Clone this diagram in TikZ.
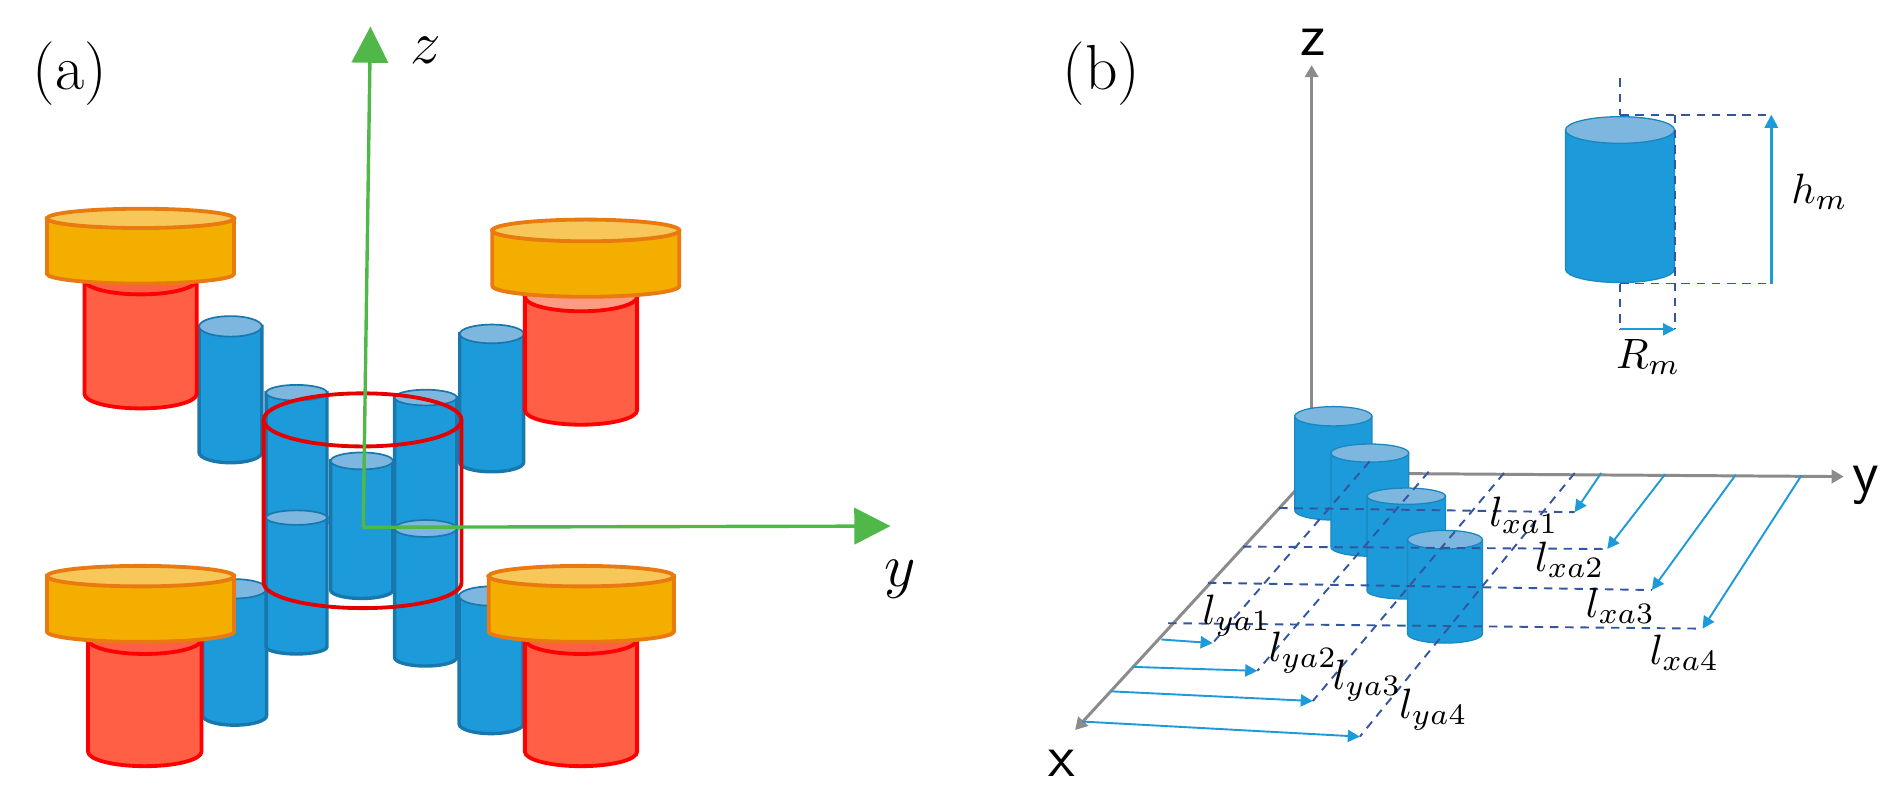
\documentclass[tikz,border=0pt]{standalone}
\usepackage{amsmath}
\usepackage{amssymb}
\usepackage[dvipsnames]{xcolor}
\usetikzlibrary{arrows.meta}

\definecolor{cylblue}{HTML}{1D9AD9}
\definecolor{cyledge}{HTML}{1878AE}
\definecolor{cyltop}{HTML}{7DB7E0}
\definecolor{redbody}{HTML}{FF5F45}
\definecolor{redtop}{HTML}{FF9A85}
\definecolor{orbody}{HTML}{F4AE00}
\definecolor{oredge}{HTML}{E87A10}
\definecolor{ortop}{HTML}{F8C75A}
\definecolor{axgreen}{HTML}{4FB848}
\definecolor{axgray}{HTML}{8C8A8A}
\definecolor{griddark}{HTML}{34559F}

% xl xr ytop ylow ybot body top
\newcommand{\cyl}[7]{
  \pgfmathsetmacro{\cylx}{(#1+#2)/2}
  \pgfmathsetmacro{\cylrx}{(#2-#1)/2}
  \pgfmathsetmacro{\cylry}{(#4-#3)/2}
  \pgfmathsetmacro{\cylcy}{(#3+#4)/2}
  \pgfmathsetmacro{\cylby}{#5-\cylry}
  \draw[#6] (#1,\cylcy) -- (#1,\cylby) arc[start angle=180, end angle=0, x radius=\cylrx, y radius=\cylry] -- (#2,\cylcy) -- cycle;
  \draw[#7] (\cylx,\cylcy) ellipse[x radius=\cylrx, y radius=\cylry];
}

\begin{document}
\begin{tikzpicture}[x=0.01cm, y=-0.01cm]
  % 样式
  \tikzset{bluebody/.style = {fill=cylblue, draw=cyledge, line width=0.8pt}}
  \tikzset{bluecap/.style = {fill=cyltop, draw=cyledge, line width=0.4pt}}
  \tikzset{flatbody/.style = {fill=cylblue, draw=cyledge!50!cylblue, line width=0.3pt}}
  \tikzset{flatcap/.style = {fill=cyltop, draw=cyledge!60!cylblue, line width=0.3pt}}
  \tikzset{redcyl/.style = {fill=redbody, draw=red, line width=0.9pt}}
  \tikzset{redcap/.style = {fill=redbody, draw=red, line width=0.9pt}}
  \tikzset{paleredcap/.style = {fill=redtop, draw=red, line width=0.9pt}}
  \tikzset{orcyl/.style = {fill=orbody, draw=oredge, line width=0.9pt}}
  \tikzset{orcap/.style = {fill=ortop, draw=oredge, line width=0.9pt}}
  \tikzset{redline/.style = {draw=red!90!black, line width=0.9pt}}
  \tikzset{greenaxis/.style = {draw=axgreen, line width=0.8pt, -{Triangle[length=3mm, width=3mm]}}}
  \tikzset{grayaxis/.style = {draw=axgray, line width=0.7pt, -{Triangle[length=1mm, width=1.1mm]}}}
  \tikzset{griddash/.style = {draw=griddark, line width=0.45pt, dash pattern=on 2pt off 1.6pt}}
  \tikzset{bluearrow/.style = {draw=cylblue, line width=0.45pt, -{Triangle[length=1mm, width=1mm]}}}
  \tikzset{panel/.style = {inner sep=0pt, font=\fontsize{15}{17}\selectfont}}
  \tikzset{mathlabel/.style = {inner sep=0pt, font=\fontsize{15}{17}\selectfont}}
  \tikzset{sanslabel/.style = {inner sep=0pt, font=\fontsize{14}{16}\selectfont\sffamily}}
  \tikzset{lenlabel/.style = {inner sep=0pt, font=\fontsize{10}{12}\selectfont}}

  \useasboundingbox (0,0) rectangle (1568,663.8);

  % (a) 外侧蓝柱
  \cyl{165}{217}{262}{279}{383.5}{bluebody}{bluecap}
  \cyl{381}{434}{269}{284.5}{391}{bluebody}{bluecap}
  \cyl{168}{221}{480}{496}{601}{bluebody}{bluecap}
  \cyl{380.5}{433.6}{486}{502}{608}{bluebody}{bluecap}

  % (a) 红柱和橙盘
  \cyl{70}{163}{220}{244}{338.5}{redcyl}{redcap}
  \cyl{435}{528}{234}{258}{352}{redcyl}{paleredcap}
  \cyl{73}{167}{518}{542}{635}{redcyl}{redcap}
  \cyl{435}{528}{518}{542}{635}{redcyl}{redcap}
  \cyl{39}{194}{173}{189}{235}{orcyl}{orcap}
  \cyl{408}{563}{182}{200}{246}{orcyl}{orcap}
  \cyl{39}{194}{469}{486}{532}{orcyl}{orcap}
  \cyl{405}{558.5}{469}{486}{532}{orcyl}{orcap}

  % (a) 内侧蓝柱
  \cyl{220.5}{271}{319}{332}{440}{bluebody}{bluecap}
  \cyl{327}{378.5}{323}{336}{445}{bluebody}{bluecap}
  \cyl{220.5}{271}{423}{435}{542}{bluebody}{bluecap}
  \cyl{327}{378.5}{431}{445}{552}{bluebody}{bluecap}
  \cyl{274}{325.6}{375}{389}{496}{bluebody}{bluecap}

  % (a) 红色线框
  \draw[redline] (218.5,348) -- (218.5,483) arc[start angle=180, end angle=0, x radius=82, y radius=21] -- (382.5,348);
  \draw[redline] (300.5,348) ellipse[x radius=82, y radius=22];

  % (a) 坐标轴
  \coordinate (oa) at (301,437);
  \coordinate (za) at (307,22);
  \coordinate (ya) at (738,436);
  \draw[greenaxis] (oa) -- (za);
  \draw[greenaxis] (oa) -- (ya);
  \node[mathlabel] (zalabel) at (353,42) {$z$};
  \node[mathlabel] (yalabel) at (746,480) {$y$};
  \node[panel] (pa) at (58,61) {(a)};

  % (b) 坐标轴
  \coordinate (ob) at (1087,392);
  \coordinate (zb) at (1087,54);
  \coordinate (yb) at (1528,395);
  \coordinate (xb) at (891,605);
  \draw[grayaxis] (ob) -- (zb);
  \draw[grayaxis] (ob) -- (yb);
  \draw[grayaxis] (ob) -- (xb);
  \node[sanslabel] (zblabel) at (1088,35) {z};
  \node[sanslabel] (yblabel) at (1546,402) {y};
  \node[sanslabel] (xblabel) at (880,633) {x};
  \node[panel] (pb) at (913,61) {(b)};

  % (b) 四个圆柱
  \cyl{1073}{1137}{337}{353}{431}{flatbody}{flatcap}
  \cyl{1103}{1167.5}{368}{383}{461}{flatbody}{flatcap}
  \cyl{1133}{1198}{404.5}{418}{496.5}{flatbody}{flatcap}
  \cyl{1166.5}{1228.6}{439.6}{455}{533}{flatbody}{flatcap}

  % (b) 横向虚线
  \coordinate (ha1) at (1060,421);
  \coordinate (hb1) at (1305,424.5);
  \coordinate (ha2) at (1030,453);
  \coordinate (hb2) at (1332,455);
  \coordinate (ha3) at (1001,483);
  \coordinate (hb3) at (1369,489);
  \coordinate (ha4) at (968,516.5);
  \coordinate (hb4) at (1411,521);
  \draw[griddash] (ha1) -- (hb1);
  \draw[griddash] (ha2) -- (hb2);
  \draw[griddash] (ha3) -- (hb3);
  \draw[griddash] (ha4) -- (hb4);

  % (b) 斜向虚线
  \coordinate (da1) at (1135,382.5);
  \coordinate (db1) at (1005,533);
  \coordinate (da2) at (1184,391);
  \coordinate (db2) at (1042,556);
  \coordinate (da3) at (1246.5,392);
  \coordinate (db3) at (1088,581);
  \coordinate (da4) at (1305,392);
  \coordinate (db4) at (1127,610.5);
  \draw[griddash] (da1) -- (db1);
  \draw[griddash] (da2) -- (db2);
  \draw[griddash] (da3) -- (db3);
  \draw[griddash] (da4) -- (db4);

  % (b) 蓝色箭头
  \coordinate (xs1) at (1327,392);
  \coordinate (xs2) at (1380,393);
  \coordinate (xs3) at (1438.5,393.5);
  \coordinate (xs4) at (1493,394);
  \coordinate (ys1) at (962.5,530);
  \coordinate (ys2) at (938.6,552.7);
  \coordinate (ys3) at (921,573);
  \coordinate (ys4) at (897,598);
  \draw[bluearrow] (xs1) -- (hb1);
  \draw[bluearrow] (xs2) -- (hb2);
  \draw[bluearrow] (xs3) -- (hb3);
  \draw[bluearrow] (xs4) -- (hb4);
  \draw[bluearrow] (ys1) -- (db1);
  \draw[bluearrow] (ys2) -- (db2);
  \draw[bluearrow] (ys3) -- (db3);
  \draw[bluearrow] (ys4) -- (db4);

  \node[lenlabel] (lxa1) at (1263,427) {$l_{xa1}$};
  \node[lenlabel] (lxa2) at (1301,464) {$l_{xa2}$};
  \node[lenlabel] (lxa3) at (1343,502) {$l_{xa3}$};
  \node[lenlabel] (lxa4) at (1396,541) {$l_{xa4}$};
  \node[lenlabel] (lya1) at (1025,510) {$l_{ya1}$};
  \node[lenlabel] (lya2) at (1080,541) {$l_{ya2}$};
  \node[lenlabel] (lya3) at (1133,564) {$l_{ya3}$};
  \node[lenlabel] (lya4) at (1188,588) {$l_{ya4}$};

  % (b) 右上圆柱
  \cyl{1297.4}{1387.8}{96.7}{118.8}{234.2}{flatbody}{flatcap}
  \coordinate (cu) at (1342.7,65);
  \coordinate (ct) at (1342.7,95);
  \coordinate (cb) at (1342.7,235);
  \coordinate (cr) at (1342.7,273);
  \coordinate (rt) at (1388.3,95);
  \coordinate (rr) at (1388.3,273);
  \coordinate (ht) at (1468,95);
  \coordinate (hb) at (1468,235);
  \draw[griddash] (cu) -- (ct);
  \draw[griddash] (cb) -- (cr);
  \draw[griddash] (ct) -- (ht);
  \draw[griddash] (cb) -- (hb);
  \draw[griddash] (rt) -- (rr);
  \draw[draw=cylblue, line width=0.6pt, -{Triangle[length=1.1mm, width=1.1mm]}] (hb) -- (ht);
  \draw[bluearrow] (cr) -- (rr);
  \node[lenlabel] (hmlabel) at (1508,159) {$h_m$};
  \node[lenlabel] (rmlabel) at (1366,296) {$R_m$};
\end{tikzpicture}
\end{document}
